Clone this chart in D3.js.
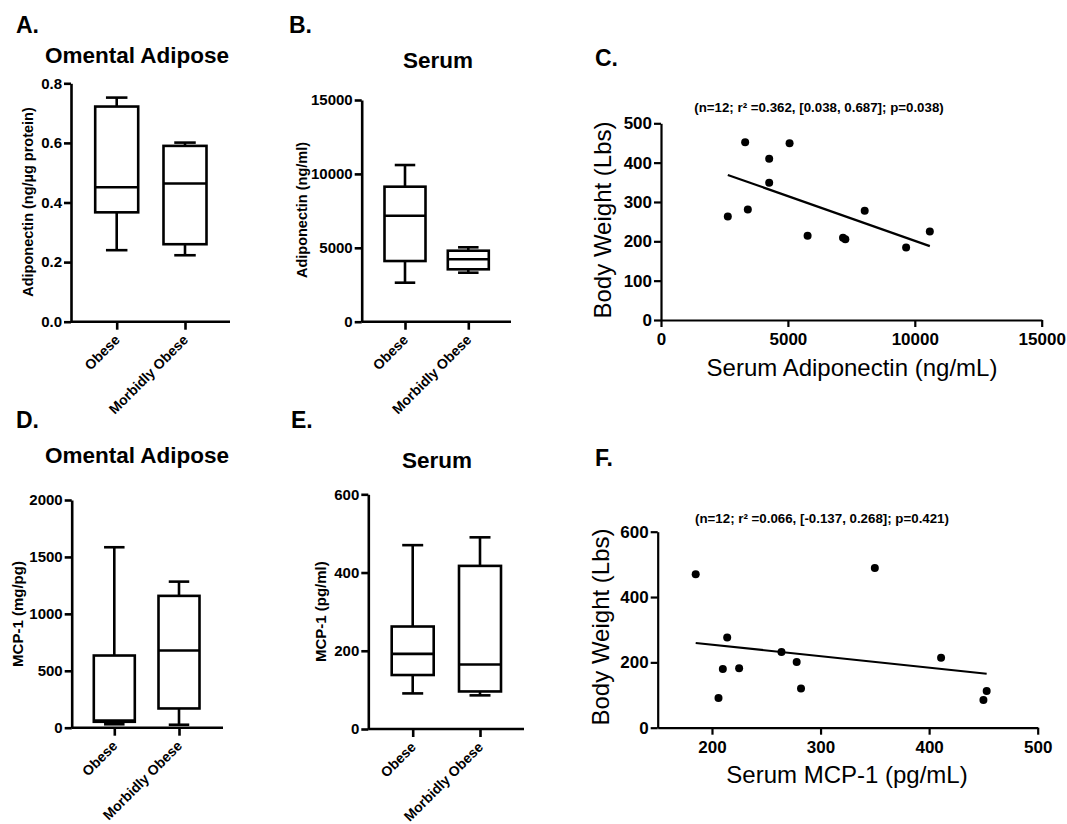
<!DOCTYPE html>
<html>
<head>
<meta charset="utf-8">
<script src="https://cdn.jsdelivr.net/npm/d3@7"></script>
<style>
  body { margin: 0; background: #fff; }
  svg text { font-family: "Liberation Sans", Arial, sans-serif; fill: #000; }
</style>
</head>
<body>
<svg id="fig" width="1067" height="824"></svg>
<script>
const groups = ['Obese', 'Morbidly Obese'];

// box stats per group: [min, q1, median, q3, max]
const omentalAdiponectin = [[0.240, 0.367, 0.451, 0.722, 0.752], [0.223, 0.260, 0.464, 0.590, 0.601]];
const serumAdiponectin = [[2640, 4105, 7173, 9135, 10600], [3315, 3545, 4222, 4804, 5034]];
const omentalMCP1 = [[30, 52, 62, 634, 1585], [26, 169, 678, 1158, 1283]];
const serumMCP1 = [[91, 138, 192, 262, 470], [86, 96, 165, 417, 490]];

const omentalAdipoTicks = [0, 0.2, 0.4, 0.6, 0.8];
const serumAdipoTicks = [0, 5000, 10000, 15000];
const omentalMcpTicks = [0, 500, 1000, 1500, 2000];
const serumMcpTicks = [0, 200, 400, 600];

// scatter: serum adiponectin vs body weight
const adipoSerum = [2632, 3316, 3421, 4263, 4263, 5066, 5776, 7171, 7263, 8026, 9658, 10592];
const adipoWeight = [263, 452, 281, 410, 349, 449, 214, 209, 205, 278, 184, 225];
const adipoXTicks = [0, 5000, 10000, 15000];
const adipoYTicks = [0, 100, 200, 300, 400, 500];

// scatter: serum MCP-1 vs body weight
const mcpSerum = [185, 206, 210, 214, 225, 264, 278, 282, 350, 411, 450, 453];
const mcpWeight = [470, 91, 180, 276, 182, 232, 201, 120, 489, 214, 85, 112];
const mcpXTicks = [200, 300, 400, 500];
const mcpYTicks = [0, 200, 400, 600];

const svg = d3.select('#fig');

function panelLabel (txt, x, y) {
  svg.append('text')
    .attr('x', x).attr('y', y)
    .style('font-size', '23px').style('font-weight', 'bold')
    .text(txt);
}

function styleAxis (sel, width, size) {
  sel.selectAll('path, line').attr('stroke', '#000').attr('stroke-width', width);
  sel.selectAll('text')
    .style('font-size', size + 'px')
    .style('font-weight', 'bold')
    .attr('fill', '#000');
}

function boxPanel (o) {
  const g = svg.append('g');
  const y = d3.scaleLinear()
    .domain([0, o.ticks[o.ticks.length - 1]])
    .range([o.y0, o.yTop]);
  const x = d3.scalePoint().domain(groups).range(o.xTicks);

  const ya = g.append('g')
    .attr('transform', 'translate(' + o.axisX + ',0)')
    .call(d3.axisLeft(y).tickValues(o.ticks).tickFormat(o.fmt)
      .tickSize(7).tickSizeOuter(0).tickPadding(2));
  styleAxis(ya, 2.6, 15);

  g.append('line')
    .attr('x1', o.axisX).attr('x2', o.xEnd)
    .attr('y1', o.y0).attr('y2', o.y0)
    .attr('stroke', '#000').attr('stroke-width', 2.6);

  const xa = g.append('g')
    .attr('transform', 'translate(0,' + o.y0 + ')')
    .call(d3.axisBottom(x).tickSize(8).tickFormat(''));
  xa.select('.domain').remove();
  styleAxis(xa, 2.6, 13);

  // rotated category labels
  g.selectAll('text.cat')
    .data(groups)
    .enter().append('text')
      .attr('class', 'cat')
      .attr('text-anchor', 'end')
      .attr('transform', d => 'translate(' + (x(d) + 4) + ',' + (o.y0 + 19) + ') rotate(-45)')
      .style('font-size', '14px').style('font-weight', 'bold')
      .text(d => d);

  const bw = o.boxW;
  const boxes = g.selectAll('g.box')
    .data(o.data)
    .enter().append('g')
      .attr('class', 'box')
      .attr('transform', (d, i) => 'translate(' + x(groups[i]) + ',0)');

  function ln (sel, x1, y1, x2, y2) {
    sel.append('line')
      .attr('x1', x1).attr('y1', y1).attr('x2', x2).attr('y2', y2)
      .attr('stroke', '#000').attr('stroke-width', 2.6);
  }
  boxes.each(function (d) {
    const b = d3.select(this);
    ln(b, 0, y(d[3]), 0, y(d[4]));
    ln(b, 0, y(d[1]), 0, y(d[0]));
    ln(b, -bw / 4, y(d[4]), bw / 4, y(d[4]));
    ln(b, -bw / 4, y(d[0]), bw / 4, y(d[0]));
    b.append('rect')
      .attr('x', -bw / 2).attr('width', bw)
      .attr('y', y(d[3])).attr('height', y(d[1]) - y(d[3]))
      .attr('fill', '#fff').attr('stroke', '#000').attr('stroke-width', 2.6);
    ln(b, -bw / 2, y(d[2]), bw / 2, y(d[2]));
  });

  g.append('text')
    .attr('x', o.titleX).attr('y', o.titleY)
    .attr('text-anchor', 'middle')
    .style('font-size', '22.5px').style('font-weight', 'bold')
    .text(o.title);

  g.append('text')
    .attr('transform', 'translate(' + o.yLabX + ',' + o.yLabY + ') rotate(-90)')
    .attr('text-anchor', 'middle')
    .style('font-size', o.yLabSize + 'px').style('font-weight', 'bold')
    .text(o.yLabel);
}

function scatterPanel (o) {
  const g = svg.append('g');
  const x = d3.scaleLinear().domain(o.xDomain).range(o.xRange);
  const y = d3.scaleLinear().domain([0, o.yTicks[o.yTicks.length - 1]]).range(o.yRange);

  const ya = g.append('g')
    .attr('transform', 'translate(' + o.xRange[0] + ',0)')
    .call(d3.axisLeft(y).tickValues(o.yTicks).tickSize(7).tickSizeOuter(0).tickPadding(2));
  styleAxis(ya, 2.2, 17);

  const xa = g.append('g')
    .attr('transform', 'translate(0,' + o.yRange[0] + ')')
    .call(d3.axisBottom(x).tickValues(o.xTicks).tickFormat(d3.format('d'))
      .tickSize(7).tickSizeOuter(0).tickPadding(6));
  styleAxis(xa, 2.2, 17);

  // least squares fit
  const mx = d3.mean(o.xs);
  const my = d3.mean(o.ys);
  const sxy = d3.sum(o.xs, (v, i) => (v - mx) * (o.ys[i] - my));
  const sxx = d3.sum(o.xs, v => (v - mx) * (v - mx));
  const slope = sxy / sxx;
  const ext = d3.extent(o.xs);
  g.append('line')
    .attr('x1', x(ext[0])).attr('y1', y(my + slope * (ext[0] - mx)))
    .attr('x2', x(ext[1])).attr('y2', y(my + slope * (ext[1] - mx)))
    .attr('stroke', '#000').attr('stroke-width', 2.2);

  g.selectAll('circle')
    .data(o.xs)
    .enter().append('circle')
      .attr('cx', d => x(d))
      .attr('cy', (d, i) => y(o.ys[i]))
      .attr('r', 4)
      .attr('fill', '#000');

  g.append('text')
    .attr('x', o.noteX).attr('y', o.noteY)
    .attr('text-anchor', 'middle')
    .style('font-size', '13.3px').style('font-weight', 'bold')
    .text(o.note);

  g.append('text')
    .attr('x', o.xLabX).attr('y', o.xLabY)
    .attr('text-anchor', 'middle')
    .style('font-size', '24px')
    .text(o.xLabel);

  g.append('text')
    .attr('transform', 'translate(' + o.yLabX + ',' + o.yLabY + ') rotate(-90)')
    .attr('text-anchor', 'middle')
    .style('font-size', '24px')
    .text('Body Weight (Lbs)');
}

panelLabel('A.', 16, 33);
panelLabel('B.', 289, 33);
panelLabel('C.', 595, 66);
panelLabel('D.', 16, 428);
panelLabel('E.', 291, 428);
panelLabel('F.', 595, 466);

boxPanel({
  data: omentalAdiponectin, ticks: omentalAdipoTicks, fmt: d3.format('.1f'),
  axisX: 71, y0: 321.7, yTop: 83.3, xEnd: 230, xTicks: [116.7, 185], boxW: 43,
  title: 'Omental Adipose', titleX: 137, titleY: 63,
  yLabel: 'Adiponectin (ng/\u00b5g protein)', yLabX: 33, yLabY: 202, yLabSize: 14.5
});

boxPanel({
  data: serumAdiponectin, ticks: serumAdipoTicks, fmt: d3.format('d'),
  axisX: 361.7, y0: 321.7, yTop: 100, xEnd: 511, xTicks: [405, 468.3], boxW: 41,
  title: 'Serum', titleX: 438, titleY: 68,
  yLabel: 'Adiponectin (ng/ml)', yLabX: 307, yLabY: 210, yLabSize: 14.5
});

boxPanel({
  data: omentalMCP1, ticks: omentalMcpTicks, fmt: d3.format('d'),
  axisX: 71.7, y0: 727.7, yTop: 500, xEnd: 223, xTicks: [114.3, 179], boxW: 41,
  title: 'Omental Adipose', titleX: 137, titleY: 463,
  yLabel: 'MCP-1 (mg/pg)', yLabX: 23, yLabY: 614, yLabSize: 15
});

boxPanel({
  data: serumMCP1, ticks: serumMcpTicks, fmt: d3.format('d'),
  axisX: 368.3, y0: 729, yTop: 494.3, xEnd: 524, xTicks: [412.7, 480], boxW: 42,
  title: 'Serum', titleX: 437, titleY: 468,
  yLabel: 'MCP-1 (pg/ml)', yLabX: 326, yLabY: 611.7, yLabSize: 15
});

scatterPanel({
  xs: adipoSerum, ys: adipoWeight,
  xDomain: [0, 15000], xRange: [661, 1041.7], yRange: [320, 123.3],
  xTicks: adipoXTicks, yTicks: adipoYTicks,
  note: '(n=12; r\u00b2 =0.362, [0.038, 0.687]; p=0.038)', noteX: 819, noteY: 112,
  xLabel: 'Serum Adiponectin (ng/mL)', xLabX: 852, xLabY: 376,
  yLabX: 611, yLabY: 220
});

scatterPanel({
  xs: mcpSerum, ys: mcpWeight,
  xDomain: [150, 500], xRange: [657.7, 1037.7], yRange: [727.7, 531.7],
  xTicks: mcpXTicks, yTicks: mcpYTicks,
  note: '(n=12; r\u00b2 =0.066, [-0.137, 0.268]; p=0.421)', noteX: 822, noteY: 523,
  xLabel: 'Serum MCP-1 (pg/mL)', xLabX: 847, xLabY: 783,
  yLabX: 609, yLabY: 627
});
</script>
</body>
</html>
